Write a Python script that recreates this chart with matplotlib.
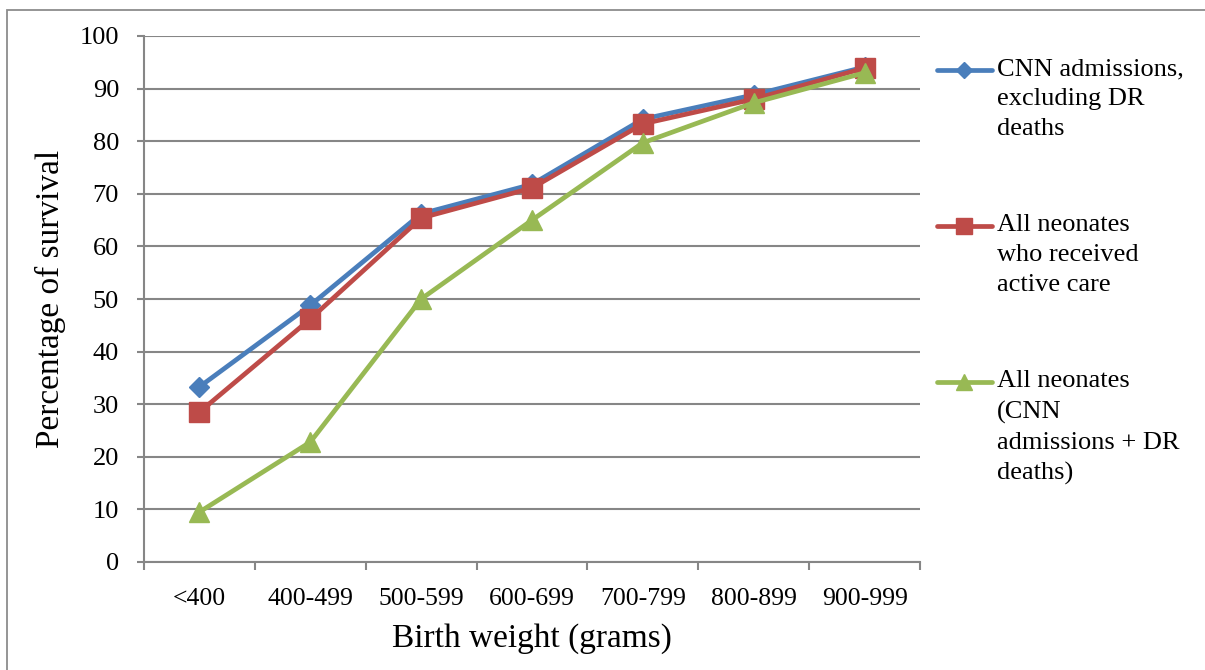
import matplotlib.pyplot as plt
from matplotlib.lines import Line2D
from matplotlib.patches import Rectangle
import numpy as np

# chart data
weights = ['<400', '400-499', '500-599', '600-699', '700-799', '800-899', '900-999']
cnn_excl_dr = [33.3, 48.8, 66.2, 71.8, 84.2, 88.8, 94.1]
active_care = [28.5, 46.2, 65.4, 71.1, 83.3, 88.0, 93.9]
all_neonates = [9.5, 22.8, 50.0, 65.0, 79.7, 87.3, 93.0]

series_labels = ['CNN admissions,\nexcluding DR\ndeaths',
                 'All neonates\nwho received\nactive care',
                 'All neonates\n(CNN\nadmissions + DR\ndeaths)']

plt.rcParams['font.family'] = ['Liberation Serif', 'DejaVu Serif']

W, H = 1205, 670
fig = plt.figure(figsize=(W / 100, H / 100), dpi=100)
fig.patch.set_facecolor('white')
ax = fig.add_axes([144 / W, 1 - 562 / H, (920 - 144) / W, (562 - 36) / H])

grid_col = '#868686'
x = np.arange(len(weights))

styles = [
    (cnn_excl_dr, '#4A7EBB', 'D', 10),
    (active_care, '#BE4B48', 's', 14),
    (all_neonates, '#98B954', '^', 15),
]
for vals, col, mk, ms in styles:
    ax.plot(x, vals, color=col, lw=3.4, marker=mk, markersize=ms,
            markerfacecolor=col, markeredgecolor=col, zorder=3)

ax.set_xlim(-0.5, len(weights) - 0.5)
ax.set_ylim(0, 100)
ax.set_yticks(np.arange(0, 101, 10))
ax.yaxis.grid(True, color=grid_col, lw=1.5)
ax.set_axisbelow(True)

for s in ['top', 'right']:
    ax.spines[s].set_visible(False)
for s in ['left', 'bottom']:
    ax.spines[s].set_color(grid_col)
    ax.spines[s].set_linewidth(1.5)

ax.set_xticks(x)
ax.set_xticklabels(weights)
ax.set_xticks(np.arange(-0.5, len(weights)), minor=True)
ax.tick_params(axis='x', which='major', length=0, pad=19, labelsize=18.5)
ax.tick_params(axis='x', which='minor', length=6, width=1.5, color=grid_col)
ax.tick_params(axis='y', length=5, width=1.5, color=grid_col, pad=13, labelsize=19)

ax.set_xlabel('Birth weight (grams)', fontsize=24, labelpad=9)
ax.set_ylabel('Percentage of survival', fontsize=24, labelpad=10)

# legend on the right, handle next to first line of each entry
leg_y = [70, 226, 382]
for (vals, col, mk, ms), lab, yy in zip(styles, series_labels, leg_y):
    fy = 1 - yy / H
    fig.add_artist(Line2D([937 / W, 992 / W], [fy, fy], color=col, lw=3.4,
                          solid_capstyle='round', transform=fig.transFigure))
    fig.add_artist(Line2D([964 / W], [fy], color=col, marker=mk, markersize=ms * 0.8,
                          transform=fig.transFigure))
    fig.text(997 / W, 1 - (yy - 12) / H, lab, fontsize=19, va='top', ha='left',
             linespacing=1.48)

# outer chart border
fig.add_artist(Rectangle((7 / W, -0.05), 1.1, 1 - 10 / H + 0.05, transform=fig.transFigure,
                         fill=False, edgecolor='#8C8C8C', lw=1.3))

fig.savefig('out.png', dpi=100)
